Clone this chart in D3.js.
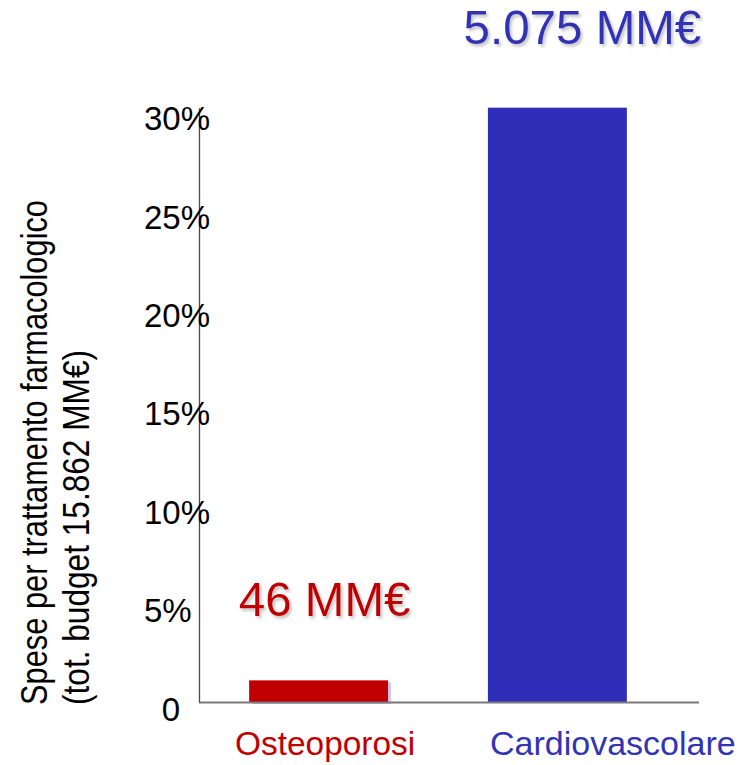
<!DOCTYPE html>
<html>
<head>
<meta charset="utf-8">
<script src="https://cdn.jsdelivr.net/npm/d3@7"></script>
<style>
  html, body { margin: 0; padding: 0; background: #fff; }
  svg { display: block; font-family: "Liberation Sans", Arial, sans-serif; }
</style>
</head>
<body>
<svg id="chart" width="741" height="765"></svg>
<script>
// ---- data ----
const categories = ["Osteoporosi", "Cardiovascolare"];
const sharePct = [1.1, 30.2];
const valueLabels = ["46 MM€", "5.075 MM€"];
const tickValues = [0, 5, 10, 15, 20, 25, 30];
const tickLabels = ["0", "5%", "10%", "15%", "20%", "25%", "30%"];
const titleLines = ["Spese per trattamento farmacologico", "(tot. budget 15.862 MM€)"];

// ---- style ----
const barColors = ["#C00000", "#2E2EB8"];
const textColors = ["#C00000", "#3333B5"];
const valueDx = [6, 25];
const catDx = [6.5, 55.5];

const svg = d3.select("#chart");
const defs = svg.append("defs");
defs.append("filter").attr("id", "txtShadow").attr("x", "-10%").attr("y", "-20%").attr("width", "130%").attr("height", "150%")
  .append("feDropShadow").attr("dx", 2).attr("dy", 2.5).attr("stdDeviation", 1.5)
  .attr("flood-color", "#777").attr("flood-opacity", 0.45);
defs.append("filter").attr("id", "barShadow").attr("x", "-5%").attr("y", "-20%").attr("width", "115%").attr("height", "160%")
  .append("feDropShadow").attr("dx", 3).attr("dy", 2).attr("stdDeviation", 0.6)
  .attr("flood-color", "#c9c6f2").attr("flood-opacity", 1);

const axisX = 199, baseY = 702, pxPerPct = 19.68;
const y = d3.scaleLinear().domain([0, 30.2]).range([baseY, baseY - pxPerPct * 30.2]);
const x = d3.scaleBand().domain(categories).range([199, 677]).paddingInner(0.418).paddingOuter(0.21);

// bars
svg.append("g").selectAll("rect").data(categories).join("rect")
  .attr("x", d => x(d))
  .attr("width", x.bandwidth())
  .attr("y", (d, i) => y(sharePct[i]))
  .attr("height", (d, i) => y(0) - y(sharePct[i]))
  .attr("fill", (d, i) => barColors[i])
  .attr("filter", (d, i) => i === 0 ? "url(#barShadow)" : null);

// baseline
svg.append("line")
  .attr("x1", axisX).attr("x2", 699).attr("y1", baseY + 0.5).attr("y2", baseY + 0.5)
  .attr("stroke", "#7a7a7a").attr("stroke-width", 2);

// y axis
const yAxis = svg.append("g").attr("transform", `translate(${axisX},0)`)
  .call(d3.axisLeft(y).tickValues(tickValues).tickFormat((d, i) => tickLabels[i]).tickSize(0).tickSizeOuter(0));
yAxis.select(".domain").attr("stroke", "#4a4a4a").attr("stroke-width", 1.3);
yAxis.selectAll(".tick text")
  .attr("font-family", "'Liberation Sans', Arial, sans-serif")
  .attr("font-size", 33)
  .attr("fill", "#000")
  .attr("dy", null)
  .attr("y", 18)
  .attr("x", d => d === 0 ? -28 : -55)
  .attr("text-anchor", d => d === 0 ? "middle" : "start");

// value labels
svg.append("g").selectAll("text").data(categories).join("text")
  .attr("x", (d, i) => x(d) + x.bandwidth() / 2 + valueDx[i])
  .attr("y", (d, i) => y(sharePct[i]) - 64)
  .attr("text-anchor", "middle")
  .attr("font-size", 47.5)
  .attr("fill", (d, i) => textColors[i])
  .attr("filter", "url(#txtShadow)")
  .text((d, i) => valueLabels[i]);

// category labels
svg.append("g").selectAll("text").data(categories).join("text")
  .attr("x", (d, i) => x(d) + x.bandwidth() / 2 + catDx[i])
  .attr("y", 755)
  .attr("text-anchor", "middle")
  .attr("font-size", (d, i) => i === 0 ? 33.4 : 34)
  .attr("fill", (d, i) => textColors[i])
  .text(d => d);

// y title (two rotated lines, start-aligned at bottom)
const titleX = [47, 89];
const titleLen = [505, 355];
titleLines.forEach((t, i) => {
  svg.append("text")
    .attr("transform", `translate(${titleX[i]},705) rotate(-90) scale(1,1.2)`)
    .attr("text-anchor", "start")
    .attr("font-size", 31)
    .attr("fill", "#000")
    .attr("textLength", titleLen[i])
    .attr("lengthAdjust", "spacingAndGlyphs")
    .text(t);
});
</script>
</body>
</html>
